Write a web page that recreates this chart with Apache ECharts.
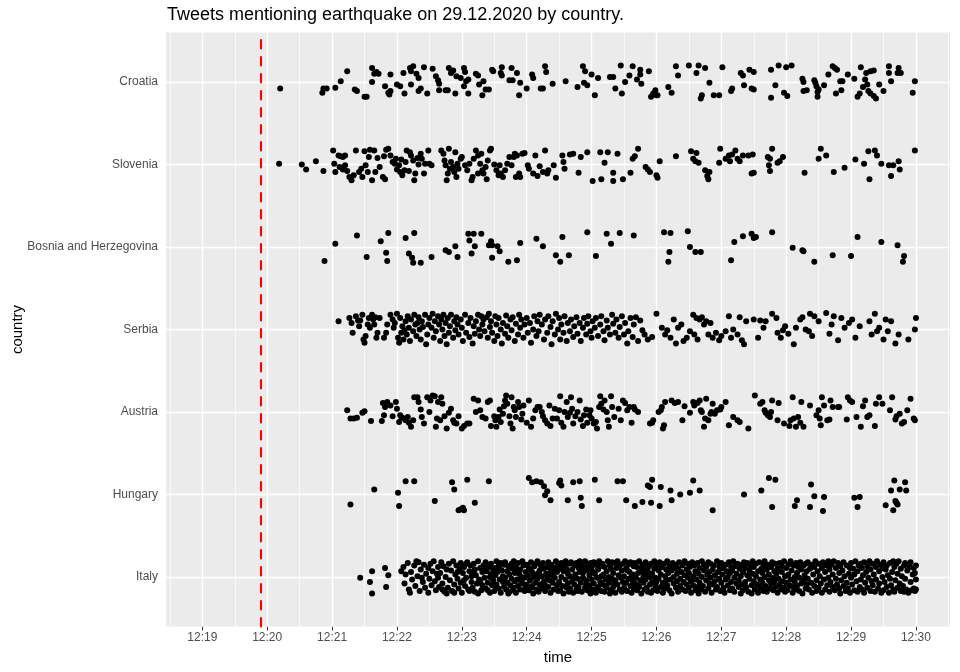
<!DOCTYPE html>
<html>
<head>
<meta charset="utf-8">
<script src="https://cdn.jsdelivr.net/npm/echarts@6/dist/echarts.min.js"></script>
<style>html,body{margin:0;padding:0;background:#fff}#chart{width:960px;height:672px}</style>
</head>
<body>
<div id="chart"></div>
<script>
// Rows from bottom to top of the panel
const countries = ['Italy', 'Hungary', 'Austria', 'Serbia', 'Bosnia and Herzegovina', 'Slovenia', 'Croatia'];
// Time axis: seconds after 12:19:00
const minuteTicks = [0, 60, 120, 180, 240, 300, 360, 420, 480, 540, 600, 660];
const minuteLabels = ['12:19', '12:20', '12:21', '12:22', '12:23', '12:24', '12:25', '12:26', '12:27', '12:28', '12:29', '12:30'];
const halfMinuteLines = [-30, 30, 90, 150, 210, 270, 330, 390, 450, 510, 570, 630, 690];
const quakeSecond = 54; // 12:19:54, red dashed line

// Each point: [seconds after 12:19:00, vertical jitter in hundredths of a row]
const croatia = [[72,-8],[111,-13],[112,-8],[115,-8],[123,-7],[128,1],[134,13],[141,-9],[143,-11],[150,-18],[152,-18],
[157,17],[157,0],[159,10],[161,12],[163,10],[169,-5],[174,9],[172,-13],[174,-11],[173,-15],[180,-3],[183,-5],[186,11],[187,-14],[192,17],[193,13],[193,-3],[195,19],[198,10],[200,5],[200,-11],[202,-8],[205,18],[208,-14],[213,16],[216,7],[218,2],[219,-2],[219,-10],[225,-10],[227,-10],[228,17],[230,11],[232,14],[235,7],[234,-14],[239,5],[242,17],[243,12],[244,1],[246,3],[242,-5],[246,-14],[253,10],[255,8],[256,-3],[259,-16],[260,1],[262,-9],[265,-9],[268,15],[269,13],[276,11],[277,18],[277,8],[284,2],[286,17],[287,2],[291,11],[293,-16],[294,-1],[300,-8],[305,9],[306,5],[313,-8],[315,-8],[317,19],[318,12],[324,-2],
[336,1],[347,-6],[352,19],[354,13],[353,-1],[356,-4],[360,9],[363,-16],[366,5],[377,6],[380,6],[382,-8],[387,20],[388,-14],[391,0],[395,8],[398,19],[402,3],[405,15],[405,9],[406,-2],[413,13],[415,-18],[417,-14],[419,-10],[420,-16],[421,-16],[431,-6],[434,-13],
[438,19],[440,8],[450,20],[457,11],[459,20],[465,17],[469,-1],[461,-20],[462,-16],[473,-16],[478,-16],[481,18],[489,-11],[490,-8],[498,11],[500,8],[501,-4],[506,15],[510,12],[508,-8],[510,-9],
[526,15],[533,20],[530,-4],[526,-19],[538,-13],[541,-17],[540,18],[545,20],[555,4],[556,0],[556,-11],[559,-10],[566,2],[567,-1],[568,-5],[570,-9],[569,-12],[569,-18],[575,-4],[579,9],[583,19],[585,17],[587,15],[590,1],[586,-14],[591,-10],[592,1],[597,9],[603,4],[609,18],[614,11],[613,3],[615,-3],[611,-6],[608,-14],[606,-18],[618,13],[621,14],[616,-11],[618,-14],[621,-17],[623,-20],[626,-3],[630,-11],[635,19],[635,11],[637,1],[644,17],[643,11],[646,11],[657,-13],[659,1]];

const slovenia = [[71,1],[92,0],[96,-6],[105,4],[112,-8],
[121,17],[122,1],[123,-9],[126,11],[128,10],[130,9],[132,11],[127,-3],[130,-6],[132,-1],[134,-8],[136,-15],[138,-19],[140,-13],[142,17],[145,-9],[147,-5],[148,-15],[150,16],[151,-1],[153,-9],[154,9],[155,18],[157,-19],[159,17],[160,-9],[162,8],[164,-3],[167,-15],[168,10],[169,-18],[170,18],[172,19],[174,11],[176,3],[178,1],[179,7],[180,-6],[182,-1],[183,-9],[184,6],[185,-13],[187,-7],[188,3],[189,17],[191,-8],[192,15],[193,11],[195,5],[196,-19],[197,-11],[199,8],[200,0],[202,13],[203,7],[205,-11],[206,1],[209,17],[210,1],[212,-1],
[221,17],[223,13],[224,5],[225,-1],[226,-19],[227,-11],[228,19],[229,-5],[230,3],[232,-3],[233,-9],[234,15],[235,-15],[236,1],[237,-5],[239,7],[240,9],[243,-1],[245,-7],[247,1],[249,-19],[250,-15],[251,7],[253,17],[255,11],[255,-11],[257,1],[258,13],[259,-7],[260,-11],[262,-3],[263,-18],[264,5],[266,17],[267,19],[270,0],[272,-7],[274,-13],[275,-1],[276,-11],[278,-15],[280,-7],[282,1],[284,9],[286,-1],[288,9],[289,13],[290,-15],[291,11],[293,-11],[294,-15],[296,13],[298,14],[301,-1],[302,-5],[306,-11],[308,11],[310,-14],[312,-2],[315,-9],[317,17],[319,-11],[320,-7],[325,-1],[327,-16],
[335,-5],[334,3],[333,11],[340,12],[343,13],[348,-10],[350,9],[356,15],[361,-20],[368,15],[369,-18],[372,2],[375,15],[380,-10],[380,-20],[384,13],[389,-18],[396,-10],[398,7],[400,10],[403,19],[410,-3],[412,-6],[414,-9],[420,-13],[421,-16],[423,4],
[438,10],[452,16],[454,7],[456,4],[457,14],[459,2],[465,-7],[467,-14],[468,-18],[469,-9],[478,2],[479,19],[484,7],[487,11],[488,4],[490,12],[493,17],[495,7],[497,4],[500,11],[505,11],[508,-11],[510,-10],[509,12],[523,9],[525,7],[524,-1],[525,-8],[527,19],[532,2],[534,4],[537,9],[557,-10],[570,7],[572,19],[577,11],[584,-9],[594,-4],[604,6],[612,1],[616,16],[617,-18],[622,17],[624,11],[628,1],[635,-1],[637,-14],[639,-1],[644,4],[645,-6],[659,17]];

const bosnia = [[113,-17],[123,4],[143,14],[152,-12],[165,7],[170,-7],[172,17],[171,-17],[188,11],[191,-8],[194,-13],[196,17],[195,-19],[202,-19],[212,-12],[225,-4],[228,-6],[234,1],[236,-12],[246,16],[247,8],[249,-8],[251,16],[252,1],[258,16],[265,2],[267,7],[268,2],[268,-13],[273,1],[275,-5],[283,-18],[291,-16],[294,5],[309,10],[315,1],[327,-10],[331,-18],[333,12],[339,-10],[356,18],[364,-11],[374,16],[378,4],[386,17],[399,14],[427,18],[431,-18],[433,17],[432,-6],[449,19],[451,0],[456,-6],[461,-6],[489,-16],[492,6],[500,13],[508,16],[510,11],[512,12],[527,18],[546,-1],[555,-4],[556,-5],[566,-18],[583,-10],[600,-11],[606,12],[628,6],[643,2],[648,-18],[649,-11]];

const serbia = [[126,10],[136,14],[138,8],[139,-4],[142,16],[144,11],[145,4],[146,11],[148,18],[149,-12],[150,-16],[151,-8],[153,6],[154,14],[155,2],[157,18],[158,12],[159,6],[160,15],[161,-10],[162,-4],[164,14],[168,-10],[170,-4],[171,6],
[174,18],[176,12],[177,2],[178,8],[180,19],[181,-10],[182,-16],[183,14],[184,-4],[185,4],[186,-12],[187,-1],[188,10],[189,-6],[190,16],[191,2],[192,-14],[193,12],[195,-2],[196,18],[197,6],[198,-8],[199,8],[200,15],[201,0],[202,-12],[203,10],[204,3],[206,18],[207,-18],[208,-6],[209,6],[210,14],[212,2],[213,19],[214,-10],[215,10],[216,-2],[218,16],[219,6],
[220,-14],[221,12],[222,0],[223,18],[224,-8],[225,8],[226,-18],[227,14],[228,-4],[229,4],[230,18],[232,-10],[233,10],[234,-1],[235,15],[236,6],[237,-6],[239,12],[240,2],[241,-14],[243,18],[244,-4],[246,8],[247,-9],[248,14],[250,-17],[251,4],[252,-5],[253,10],[255,18],[256,0],[257,-8],[258,16],[259,6],[260,12],[261,-2],[263,15],[264,-10],[265,19],[266,3],
[267,10],[268,-4],[270,-14],[271,16],[272,6],[273,-8],[274,14],[276,0],[277,-17],[278,8],[280,-5],[281,17],[282,4],[283,-10],[285,12],[286,-1],[287,15],[289,-14],[290,7],[292,-6],[293,18],[294,2],[295,12],[297,-10],[298,6],[300,14],[301,-4],[303,8],[304,-16],[306,0],[307,16],[309,-8],[310,10],[311,-2],[312,18],[314,6],
[316,-12],[317,12],[319,-4],[320,16],[322,3],[323,-18],[324,10],[326,-6],[327,19],[329,0],[330,14],[331,-12],[332,6],[334,-4],[335,16],[337,-14],[338,8],[340,-2],[341,12],[343,-9],[344,4],[346,15],[347,-5],[349,8],[350,-14],[352,2],[353,14],[355,-6],[356,7],[357,16],[359,-2],[360,-10],
[361,10],[363,2],[364,14],[366,-8],[368,6],[369,16],[371,-2],[372,-13],[374,11],[375,2],[377,-6],[379,18],[380,7],[382,-4],[383,12],[385,-10],[386,3],[388,16],[390,-6],[391,8],[393,-17],[394,-2],[396,14],[398,-9],[399,6],[401,15],[403,-14],[405,11],[407,-1],[409,-6],
[412,-12],[416,-9],[420,19],[425,2],[428,-6],[430,-1],[433,-10],[436,12],[438,-17],[440,2],[443,6],[445,-14],[448,-10],[451,-2],[454,18],[455,-6],[457,14],[458,-12],[460,12],[462,15],[464,6],[466,10],[468,-6],[470,8],[472,-10],[475,-4],[478,-13],[480,-8],[484,-2],[487,16],[489,-10],
[491,0],[495,-6],[497,15],[499,-13],[501,-18],[503,10],[510,12],[514,-10],[516,11],[519,2],[521,10],[527,19],[531,14],[532,-4],[535,-10],[537,-1],[539,4],[542,-5],[547,-18],[549,2],[553,12],[555,15],[558,0],[561,-2],[562,19],[564,-8],[566,16],
[570,10],[577,20],[580,-5],[582,6],[584,16],[588,-13],[591,14],[594,2],[598,8],[601,12],[604,-10],[608,4],[617,10],[619,-6],[622,19],[624,-2],[626,2],[630,-12],[632,12],[634,-2],[637,10],[641,-17],[644,-6],[653,-12],[659,0],[660,14]];

const austria = [[134,2],[137,-8],[140,-8],[143,-7],[148,-1],[150,1],[156,-11],[166,-11],[168,-4],[169,6],[167,11],[171,12],[174,8],[176,-5],[179,12],[180,4],[182,-12],[183,-4],[184,-6],[187,-8],[188,-10],[190,-6],[191,-13],[193,-18],[195,-10],[196,18],[199,18],[200,12],[202,3],[203,-6],[205,-14],[208,18],[210,0],[211,14],[213,20],[215,19],[216,-18],[217,-8],[218,12],[220,-10],[221,18],[222,10],[224,-5],[226,-20],[228,-1],[230,4],[232,-10],[233,-13],[235,-14],[237,-5],[240,-20],[242,-17],[245,-14],[247,-14],
[251,16],[253,0],[255,14],[257,2],[259,-6],[262,-8],[264,12],[266,14],[267,-17],[270,-5],[271,-10],[272,-18],[274,-6],[275,3],[276,-12],[278,-2],[279,7],[280,14],[281,20],[282,10],[284,-5],[285,-14],[286,18],[287,-20],[288,6],[289,2],[290,-6],[292,12],[293,6],[295,-9],[296,-2],[297,8],[300,-13],[302,14],[304,-18],[306,-8],[308,2],[310,6],[312,6],[314,0],[315,-5],[317,-10],[319,-14],[321,8],[322,-17],[324,-8],[326,4],[328,-8],[330,2],[331,19],[332,-13],[334,-18],[335,0],[337,12],[338,-6],[340,-1],[341,18],[342,4],[343,-14],[345,-5],[347,0],[349,14],[350,-9],[352,-17],[353,-4],[355,3],[356,-13],[358,-4],[359,2],[360,-8],[362,-14],[364,-12],[365,-20],[367,6],[368,19],[369,10],[371,3],[372,14],[374,0],[375,-10],[376,-18],[378,19],[379,6],[381,-6],[385,4],[387,-10],[389,14],[391,11],[393,2],[395,6],[397,-13],[399,6],[400,3],[403,0],
[414,-14],[416,-13],[417,-10],[422,0],[424,2],[425,6],[426,-20],[427,-16],[428,12],[434,14],[437,11],[440,12],[444,-10],[446,7],[451,-1],[454,12],[455,8],[458,11],[460,14],[461,2],[462,0],[464,-18],[465,-8],[466,16],[468,-10],[470,-2],[471,0],[472,10],[474,-2],[476,2],[479,3],[480,6],[484,12],[487,-16],[491,-6],[495,-10],[497,-12],
[505,-20],[511,20],[516,10],[518,12],[520,2],[521,-1],[523,-4],[525,-6],[526,0],[527,14],[533,11],[532,-10],[538,-14],[543,-17],[544,-10],[546,18],[547,-8],[549,-18],[551,-6],[553,-13],[556,-18],[554,12],[562,8],[568,-4],[570,2],[571,-8],[572,-16],[573,18],[575,8],[578,-10],[580,-9],[581,14],[583,6],[588,6],[589,6],[596,-9],[597,18],[599,14],[601,12],[605,-6],[609,-18],[611,7],[613,14],[615,-6],[617,-4],[622,-17],[623,10],[626,18],[629,10],[636,2],[638,18],[641,-9],[642,-5],[645,-2],[647,-14],[649,-12],[652,2],[655,16],[658,-8],[659,-10]];

const hungary = [[137,-12],[159,6],[181,2],[182,-14],[188,16],[196,16],[215,-8],[231,15],[233,6],[237,-19],[239,-18],[241,-16],[242,-19],[245,18],[252,-10],[265,16],[302,20],[305,15],[309,16],[313,15],[316,10],[317,-1],[319,4],[322,-7],[330,14],[331,17],[332,11],[338,-7],[343,15],[349,16],[350,-4],[351,-14],[363,18],[367,-7],[384,16],[389,16],[392,-7],[400,-14],[407,-9],[412,11],[414,9],[416,18],[415,-10],[423,-14],[424,9],[433,5],[434,-7],[442,0],[451,2],[454,17],[460,5],[472,-19],[501,0],[517,5],[524,20],[527,-15],[530,18],[548,-14],[550,-7],[562,-15],[563,12],[566,-2],[575,-3],[574,-20],[603,-4],[606,-15],[608,-3],[632,-13],[637,5],[639,-19],[640,17],[641,-8],[642,-10],[643,-12],[645,6],[650,15],[651,5]];

const italy = [[146,-1],[155,-6],[157,7],[157,-20],[169,11],[170,-12],[172,2],[184,7],
[186,12],[187,-8],[188,3],[190,17],[191,-15],[193,6],[194,-3],[196,14],[197,-11],[199,1],[192,-19],[198,19],
[200,18],[201,-17],[202,9],[204,-6],[205,15],[206,-13],[207,4],[209,11],[209,-19],[203,-1],
[210,-2],[211,16],[212,-10],[213,7],[214,19],[215,-5],[216,-16],[218,12],[218,-1],[219,-12],[217,4],
[220,5],[221,18],[222,-8],[223,13],[224,-18],[225,0],[226,9],[227,-13],[228,16],[229,-4],[222,-15],[226,-20],
[230,8],[231,-17],[232,19],[233,-9],[234,3],[235,14],[236,-2],[237,-14],[238,10],[239,17],[239,-7],[233,-19],[236,6],
[240,-19],[241,5],[242,12],[243,-11],[244,-1],[245,18],[246,-15],[247,7],[248,14],[249,-6],[249,1],[242,-4],[247,-17],[244,16],
[250,-13],[251,16],[252,9],[252,-18],[253,2],[254,-8],[255,19],[256,-3],[257,11],[258,-16],[259,6],[259,-10],[251,4],[255,-20],[257,-6],
[260,14],[261,-1],[262,-14],[262,18],[263,7],[264,-7],[265,12],[266,-19],[267,3],[267,16],[268,-10],[269,8],[269,-4],[261,10],[264,-16],[266,0],
[270,-17],[270,11],[271,2],[272,-9],[272,19],[273,6],[274,-14],[274,13],[275,-3],[276,17],[276,-19],[277,8],[278,-6],[278,1],[279,15],[279,-12],[271,-11],[275,9],
[280,-1],[280,18],[281,-15],[282,7],[282,-7],[283,13],[284,-18],[284,3],[285,-10],[286,16],[286,-2],[287,10],[288,-13],[288,19],[289,-5],[289,5],[283,-20],[287,-16],
[290,12],[290,-19],[291,-3],[292,17],[292,-11],[293,4],[294,-15],[294,9],[295,0],[296,19],[296,-8],[297,14],[298,-17],[298,-1],[299,6],[299,-12],[291,8],[295,-6],
[300,15],[300,-9],[301,2],[302,-16],[302,11],[303,-4],[304,18],[304,-13],[305,6],[306,-20],[306,0],[307,13],[308,-7],[308,16],[309,-15],[309,3],[303,9],[305,-11],
[310,-2],[310,19],[311,-18],[312,8],[312,-9],[313,14],[314,-14],[314,1],[315,17],[316,-5],[316,10],[317,-17],[318,4],[318,-11],[319,12],[319,-1],[311,5],[315,-8],
[320,18],[320,-12],[321,-4],[322,9],[322,-19],[323,15],[324,-7],[324,2],[325,-15],[326,11],[326,-1],[327,19],[328,-10],[328,6],[329,-17],[329,14],[321,3],[325,7],
[330,-6],[330,10],[331,-16],[332,17],[332,0],[333,-11],[334,7],[334,-20],[335,13],[336,-3],[336,19],[337,-13],[338,4],[338,-8],[339,16],[339,-18],[333,12],[337,9],
[340,1],[340,-14],[341,18],[342,-5],[342,9],[343,-19],[344,14],[344,-9],[345,3],[346,17],[346,-15],[347,-2],[348,11],[348,-12],[349,6],[349,19],[343,-1],[347,-17],
[350,-7],[350,15],[351,-18],[352,5],[352,-1],[353,12],[354,-13],[354,19],[355,-4],[356,8],[356,-16],[357,14],[358,-10],[358,2],[359,17],[359,-20],[351,10],[355,-9],
[360,-3],[360,11],[361,-15],[362,18],[362,-8],[363,4],[364,15],[364,-19],[365,-1],[366,9],[366,-12],[367,19],[368,-6],[368,13],[369,-17],[369,1],[361,6],[365,-14],
[370,-9],[370,16],[371,3],[372,-18],[372,12],[373,-3],[374,7],[374,-13],[375,19],[376,-7],[376,0],[377,14],[378,-16],[378,10],[379,-2],[379,18],[373,-11],[377,-20],
[380,5],[380,-12],[381,17],[382,-19],[382,-4],[383,11],[384,-9],[384,19],[385,2],[386,-15],[386,14],[387,-1],[388,8],[388,-18],[389,16],[389,-6],[381,-8],[385,12],
[390,-13],[390,1],[391,19],[392,-7],[392,10],[393,-17],[394,15],[394,-2],[395,6],[396,-11],[396,18],[397,-19],[398,3],[398,-5],[399,13],[399,-14],[393,8],[397,0],
[400,17],[400,-8],[401,-1],[402,12],[402,-16],[403,5],[404,-12],[404,19],[405,-4],[406,9],[406,-20],[407,15],[408,-7],[408,1],[409,-15],[409,11],[403,-10],[407,6],
[410,-3],[410,18],[411,-13],[412,7],[412,-18],[413,13],[414,0],[414,-9],[415,16],[416,-6],[416,4],[417,-16],[418,10],[418,19],[419,-11],[419,-1],[411,2],[415,-19],
[420,14],[420,-6],[421,-17],[422,8],[422,-2],[423,18],[424,-12],[424,3],[425,12],[426,-19],[426,-7],[427,16],[428,1],[428,-14],[429,9],[429,-4],
[430,19],[430,-10],[431,5],[432,-16],[432,13],[433,-3],[434,8],[434,-20],[435,17],[436,-8],[436,0],[437,11],[438,-13],[438,15],[439,-5],[439,4],
[440,-18],[440,10],[441,18],[442,-2],[442,-11],[443,6],[444,14],[444,-15],[445,-6],[446,19],[446,2],[447,-17],[448,9],[448,-9],[449,16],[449,-1],
[450,-13],[450,5],[451,12],[452,-19],[452,-5],[453,18],[454,1],[454,-10],[455,14],[456,-16],[456,7],[457,-3],[458,17],[458,-12],[459,4],[459,-20],
[460,11],[460,-7],[461,-15],[462,19],[462,0],[463,-11],[464,8],[464,15],[465,-18],[466,-4],[466,12],[467,3],[468,-14],[468,18],[469,-8],[469,6],
[470,-1],[470,16],[471,-19],[472,9],[472,-9],[473,14],[474,-5],[474,2],[475,-15],[476,19],[476,-12],[477,6],[478,-2],[478,13],[479,-17],[479,10],
[480,-7],[480,17],[481,3],[482,-13],[482,11],[483,-19],[484,-3],[484,15],[485,7],[486,-10],[486,0],[487,18],[488,-16],[488,5],[489,-6],[489,12],
[490,-14],[490,8],[491,19],[492,-1],[492,-18],[493,13],[494,-8],[494,4],[495,16],[496,-12],[496,-4],[497,10],[498,-20],[498,1],[499,15],[499,-9],
[500,6],[500,-16],[501,18],[502,-6],[502,11],[503,-12],[504,2],[504,17],[505,-18],[506,-2],[506,8],[507,14],[508,-10],[508,-20],[509,4],[509,19],
[510,-5],[510,12],[511,-15],[512,1],[512,16],[513,-9],[514,7],[514,-19],[515,18],[516,-3],[516,-13],[517,10],[518,5],[518,-7],[519,14],[519,-17],
[520,0],[520,19],[521,-11],[522,9],[522,-18],[523,15],[524,-4],[524,3],[525,-14],[526,12],[526,-8],[527,18],[528,-1],[528,-16],[529,7],[529,-6],
[530,16],[530,-12],[531,4],[532,-19],[532,10],[533,-2],[534,17],[534,-9],[535,-15],[536,6],[536,13],[537,-5],[538,19],[538,-13],[539,1],[539,-18],
[540,11],[540,-7],[541,-16],[542,15],[542,3],[543,-10],[544,19],[544,-3],[545,8],[546,-19],[546,-12],[547,14],[548,0],[548,-6],[549,17],[549,-15],
[550,5],[550,-11],[551,12],[552,-17],[552,-1],[553,18],[554,-8],[554,9],[555,-20],[556,14],[556,-4],[557,2],[558,-14],[558,16],[559,-9],[559,7],
[560,-2],[560,18],[561,-15],[562,10],[563,-7],[563,15],[564,-19],[565,3],[566,-11],[566,12],[567,19],[568,-4],[568,-17],[569,7],
[570,-13],[570,16],[571,1],[572,-8],[573,11],[573,-19],[574,18],[575,-3],[576,6],[576,-15],[577,14],[578,-10],[579,-1],[579,19],
[580,9],[580,-18],[581,-6],[582,15],[583,-12],[583,3],[584,19],[585,-16],[586,-2],[586,11],[587,-9],[588,17],[589,5],[589,-14],
[590,-20],[590,13],[591,-4],[592,8],[593,-11],[593,18],[594,1],[595,-17],[596,14],[596,-7],[597,-14],[598,4],[599,11],[599,-19],
[600,-1],[600,17],[601,-9],[602,10],[603,-16],[603,3],[604,19],[605,-5],[606,-18],[606,7],[607,14],[608,-12],[609,-3],[609,16],
[610,11],[610,-15],[611,2],[612,-19],[612,18],[613,-7],[614,6],[615,13],[615,-13],[616,-1],[617,19],[618,-17],[618,9],[619,-5],
[620,-10],[620,16],[621,3],[622,-18],[623,12],[623,-3],[624,19],[625,-14],[626,7],[626,-8],[627,15],[628,-19],[629,0],[629,11],
[630,-16],[630,18],[631,-6],[632,9],[633,-12],[633,14],[634,2],[635,-19],[636,17],[636,-2],[637,-10],[638,6],[639,19],[639,-15],
[640,12],[640,-18],[641,-4],[642,16],[643,-13],[643,4],[644,19],[645,-8],[646,-17],[646,10],[647,1],[648,-11],[649,14],[649,-18],
[650,-2],[650,17],[651,-15],[652,8],[653,-19],[654,12],[655,-6],[655,18],[656,-16],[657,3],[658,-14],[658,11],[659,-17],[659,5],[660,-3],[660,14],[660,-15]];

const rowsData = [italy, hungary, austria, serbia, bosnia, slovenia, croatia]; // same order as countries

// Build scatter data: x = seconds, y = row index (1..7) + jitter
const points = [];
rowsData.forEach(function (arr, i) {
  arr.forEach(function (p) { points.push([p[0], i + 1 + p[1] / 100]); });
});
const rowValues = countries.map(function (c, i) { return i + 1; });

const FONT = 'Liberation Sans, Arial, sans-serif';
const gridLineData = []
  .concat(halfMinuteLines.map(function (v) { return { xAxis: v, lineStyle: { color: '#ffffff', width: 0.7, type: 'solid' } }; }))
  .concat(minuteTicks.map(function (v) { return { xAxis: v, lineStyle: { color: '#ffffff', width: 1.4, type: 'solid' } }; }))
  .concat(rowValues.map(function (v) { return { yAxis: v, lineStyle: { color: '#ffffff', width: 1.4, type: 'solid' } }; }));

const chart = echarts.init(document.getElementById('chart'), null, { renderer: 'canvas' });
chart.setOption({
  animation: false,
  backgroundColor: '#ffffff',
  textStyle: { fontFamily: FONT },
  title: {
    text: 'Tweets mentioning earthquake on 29.12.2020 by country.',
    left: 162, top: 1,
    textStyle: { fontFamily: FONT, fontSize: 18, fontWeight: 'normal', color: '#000000' }
  },
  grid: { left: 166, right: 10, top: 32.5, bottom: 45.5, show: true, backgroundColor: '#EBEBEB', borderWidth: 0,
    containLabel: false, outerBoundsMode: 'none' },
  xAxis: {
    type: 'value', min: -33.6, max: 691.5,
    name: 'time', nameLocation: 'middle', nameGap: 24, nameMoveOverlap: false,
    nameTextStyle: { fontFamily: FONT, fontSize: 15, color: '#000000' },
    axisLine: { show: false },
    axisTick: { show: true, customValues: minuteTicks, length: 4, lineStyle: { color: '#333333', width: 1 } },
    axisLabel: {
      customValues: minuteTicks, margin: 5, fontSize: 12, color: '#4D4D4D', fontFamily: FONT,
      formatter: function (v) { return minuteLabels[Math.round(v / 60)]; }
    },
    splitLine: { show: false }
  },
  yAxis: {
    type: 'value', min: 0.4, max: 7.6,
    name: 'country', nameLocation: 'middle', nameGap: 141, nameRotate: 90, nameMoveOverlap: false,
    nameTextStyle: { fontFamily: FONT, fontSize: 15, color: '#000000' },
    axisLine: { show: false },
    axisTick: { show: true, customValues: rowValues, length: 4, lineStyle: { color: '#333333', width: 1 } },
    axisLabel: {
      customValues: rowValues, margin: 8, fontSize: 12, color: '#4D4D4D', fontFamily: FONT,
      formatter: function (v) { return countries[Math.round(v) - 1]; }
    },
    splitLine: { show: false }
  },
  series: [
    {
      type: 'scatter', data: [], silent: true, z: 1,
      markLine: { silent: true, z: 1, symbol: ['none', 'none'], label: { show: false }, animation: false,
        emphasis: { disabled: true }, data: gridLineData }
    },
    {
      type: 'scatter', data: points, symbol: 'circle', symbolSize: 6, silent: true, z: 3,
      itemStyle: { color: '#000000', opacity: 1 }
    },
    {
      type: 'scatter', data: [], silent: true, z: 4,
      markLine: { silent: true, z: 4, symbol: ['none', 'none'], label: { show: false }, animation: false,
        emphasis: { disabled: true },
        data: [{ xAxis: quakeSecond, lineStyle: { color: '#FF0000', width: 2.1, type: [8.5, 8.5], cap: 'round' } }] }
    }
  ]
});
</script>
</body>
</html>
